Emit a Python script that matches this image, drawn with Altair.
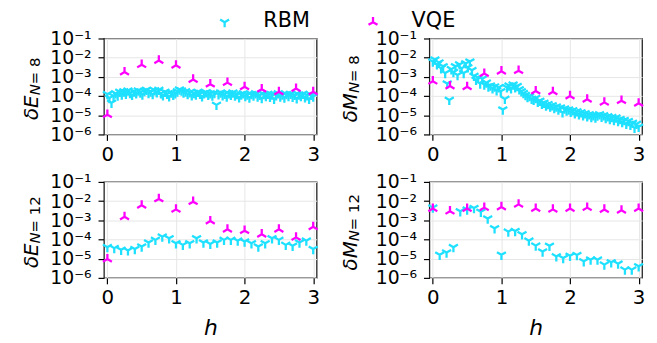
import altair as alt
import pandas as pd

# ---------------- data (log10 of the plotted values) ----------------
H_RBM_8 = [round(0.03 * i, 2) for i in range(101)]
H_RBM_12 = [round(0.1 * i, 1) for i in range(31)]
H_VQE = [0.0, 0.25, 0.5, 0.75, 1.0, 1.25, 1.5, 1.75, 2.0, 2.25, 2.5, 2.75, 3.0]

RBM_E8 = [-3.90, -4.10, -4.35, -4.00, -3.86, -3.98, -3.78, -3.92, -3.76, -3.88,
          -3.72, -3.84, -3.94, -3.76, -3.86, -3.71, -3.82, -3.92, -3.74, -3.68,
          -3.84, -3.76, -3.90, -3.70, -3.80, -3.68, -3.86, -3.96, -3.78, -3.88,
          -4.01, -3.82, -3.94, -3.86, -3.76, -3.66, -3.72, -3.82, -3.76, -3.90,
          -3.80, -3.96, -3.84, -3.92, -3.78, -3.88, -4.01, -3.86, -3.80, -3.94,
          -3.86, -3.98, -3.84, -4.46, -3.91, -3.82, -3.96, -3.88, -4.02, -3.86,
          -3.94, -3.82, -3.98, -3.90, -4.06, -3.92, -3.86, -4.00, -3.92, -4.08,
          -3.90, -3.98, -3.86, -4.02, -3.94, -4.11, -3.90, -4.00, -3.88, -4.04,
          -3.92, -4.14, -3.96, -3.86, -4.02, -3.92, -4.08, -3.90, -4.00, -3.88,
          -4.04, -3.94, -4.12, -3.92, -4.00, -3.88, -4.06, -3.96, -4.14, -3.94,
          -4.02]
VQE_E8 = [-4.97, -2.75, -2.37, -2.15, -2.40, -3.14, -3.38, -3.30, -3.52, -3.64,
          -3.78, -3.61, -3.78]

RBM_M8 = [-2.20, -2.10, -2.35, -2.25, -2.55, -2.45, -2.80, -3.35, -4.20, -2.60,
          -2.75, -2.45, -2.90, -2.35, -2.55, -2.80, -2.30, -2.50, -2.20, -2.65,
          -2.95, -3.15, -3.05, -3.35, -3.10, -3.40, -3.30, -3.50, -3.45, -3.60,
          -3.50, -3.70, -3.55, -3.75, -4.70, -4.15, -3.55, -3.45, -3.60, -3.40,
          -3.55, -3.48, -3.65, -3.75, -3.85, -3.95, -4.05, -4.00, -4.15, -4.20,
          -4.10, -4.30, -4.25, -4.40, -4.35, -4.50, -4.42, -4.55, -4.48, -4.62,
          -4.55, -4.70, -4.60, -4.85, -4.65, -4.75, -4.70, -4.82, -4.74, -4.90,
          -4.80, -4.95, -4.85, -5.00, -4.90, -5.05, -4.95, -5.10, -5.00, -5.12,
          -5.02, -4.95, -5.08, -5.00, -5.15, -5.05, -5.20, -5.10, -5.25, -5.12,
          -5.30, -5.20, -5.35, -5.25, -5.45, -5.30, -5.50, -5.40, -5.65, -5.45,
          -5.60]
VQE_M8 = [-3.23, -3.48, -3.52, -2.83, -2.71, -2.68, -3.74, -3.78, -4.00, -4.17,
          -4.33, -4.24, -4.38]

RBM_E12 = [-4.40, -4.45, -4.54, -4.57, -4.50, -4.37, -4.16, -4.02, -3.85, -3.94,
           -4.20, -4.28, -4.20, -3.94, -4.16, -4.23, -4.16, -4.02, -4.02, -4.06,
           -4.11, -4.20, -4.37, -4.20, -3.94, -4.02, -4.28, -4.33, -4.16, -4.06,
           -4.50]
VQE_E12 = [-5.02, -2.82, -2.22, -1.89, -2.43, -2.03, -3.04, -3.47, -3.54, -3.73,
           -3.47, -3.89, -3.34]

RBM_M12 = [-2.34, -4.80, -4.68, -4.40, -2.53, -2.44, -2.36, -2.56, -2.91, -3.42,
           -4.80, -3.59, -3.56, -3.73, -4.06, -4.32, -4.63, -4.33, -4.88, -4.97,
           -4.85, -4.81, -5.14, -5.05, -5.05, -5.31, -5.19, -5.26, -5.57, -5.57,
           -5.40]
VQE_M12 = [-2.39, -2.53, -2.39, -2.34, -2.31, -2.17, -2.39, -2.43, -2.39, -2.34,
           -2.44, -2.48, -2.39]

SERIES = ["RBM", "VQE"]
X_TICKS = [0, 1, 2, 3]
Y_TICKS = [1e-6, 1e-5, 1e-4, 1e-3, 1e-2, 1e-1]

# ---------------- style ----------------
FONT = "DejaVu Sans"
CYAN = "#1EE0FF"
MAGENTA = "#FF00FF"
TRI_DOWN = "M0,0L0,1M0,0L0.866,-0.5M0,0L-0.866,-0.5"
TRI_UP = "M0,0L0,-1M0,0L0.866,0.5M0,0L-0.866,0.5"
W, H = 215, 97
MS = 110
SW = 2.3

LABEL_EXPR = ("'10\u207b' + ['\u2070','\u00b9','\u00b2','\u00b3','\u2074','\u2075','\u2076']"
              "[round(-log(datum.value)/LN10)]")

CHAR_W = {"δ": 0.612, "E": 0.632, "M": 0.863, "N": 0.748, " ": 0.318, "=": 0.838}


def text_w(s, size):
    return sum(CHAR_W.get(c, 0.636) for c in s) * size


def one_text(txt, x, y, size, style="normal", angle=270, align="left", baseline="alphabetic"):
    return alt.Chart(pd.DataFrame({"t": [txt]})).mark_text(
        angle=angle, align=align, baseline=baseline, font=FONT, fontSize=size,
        fontStyle=style, color="black"
    ).encode(x=alt.value(x), y=alt.value(y), text="t:N")


def ytitle(main, rest, xb):
    fm, fs = 20, 15
    wm, wn, wr = text_w(main, fm), text_w("N", fs), text_w(rest, fs)
    y0 = H / 2 + (wm + wn + wr) / 2
    return [
        one_text(main, xb, y0, fm, "italic"),
        one_text("N", xb + 2.5, y0 - wm, fs, "italic"),
        one_text(rest, xb + 2.5, y0 - wm - wn, fs),
    ]


def panel(h_rbm, rbm_log, vqe_log, main, rest, xb, bottom, legend=None):
    df_r = pd.DataFrame({"h": h_rbm, "v": [10 ** e for e in rbm_log]})
    df_v = pd.DataFrame({"h": H_VQE, "v": [10 ** e for e in vqe_log]})
    x = alt.X("h:Q", scale=alt.Scale(domain=[-0.05, 3.05], nice=False, zero=False),
              axis=alt.Axis(values=X_TICKS, format="d", title="h" if bottom else None))
    y = alt.Y("v:Q", scale=alt.Scale(type="log", domain=[1e-6, 1e-1], nice=False),
              axis=alt.Axis(values=Y_TICKS, labelExpr=LABEL_EXPR, title=None,
                            labelOverlap=False, labelBound=False))
    rbm = alt.Chart(df_r).mark_point(shape=TRI_DOWN, filled=False, strokeWidth=SW, size=MS,
                                     color=CYAN, opacity=1).encode(x=x, y=y)
    vqe = alt.Chart(df_v).mark_point(shape=TRI_UP, filled=False, strokeWidth=SW, size=MS,
                                     color=MAGENTA, opacity=1).encode(x=x, y=y)
    layers = [rbm, vqe] + ytitle(main, rest, xb)
    if legend is not None:
        name, shape, color, sx, tx = legend
        layers.append(alt.Chart(pd.DataFrame({"s": [name]})).mark_point(
            shape=shape, filled=False, strokeWidth=SW, size=MS, color=color, opacity=1
        ).encode(x=alt.value(sx), y=alt.value(-16.5)))
        layers.append(one_text(name, tx, -11.3, 21, angle=0))
    return alt.layer(*layers).properties(width=W, height=H)


p1 = panel(H_RBM_8, RBM_E8, VQE_E8, "δE", " = 8", -67, False,
           (SERIES[0], TRI_DOWN, CYAN, 122, 161))
p2 = panel(H_RBM_8, RBM_M8, VQE_M8, "δM", " = 8", -73.5, False,
           (SERIES[1], TRI_UP, MAGENTA, -57, -18))
p3 = panel(H_RBM_12, RBM_E12, VQE_E12, "δE", " = 12", -67, True)
p4 = panel(H_RBM_12, RBM_M12, VQE_M12, "δM", " = 12", -73.5, True)

chart = alt.vconcat(
    alt.hconcat(p1, p2, spacing=16),
    alt.hconcat(p3, p4, spacing=16),
    spacing=7,
).properties(
    padding={"left": 13, "top": 0, "right": 0, "bottom": 0}
).configure_view(
    stroke="#222222", strokeWidth=1.3
).configure_axis(
    domain=False, grid=True, gridColor="#e6e6e6", gridWidth=1,
    ticks=True, tickSize=6, tickColor="black", tickWidth=1.2,
    labelFont=FONT, labelColor="black", titleFont=FONT, titleColor="black",
).configure_axisX(
    labelFontSize=20, labelPadding=4, titleFontSize=22, titleFontStyle="italic",
    titleFontWeight="normal", titlePadding=10,
).configure_axisY(
    labelFontSize=19, labelPadding=7,
)

chart.save("out.html", embed_options={"renderer": "svg", "actions": False})
